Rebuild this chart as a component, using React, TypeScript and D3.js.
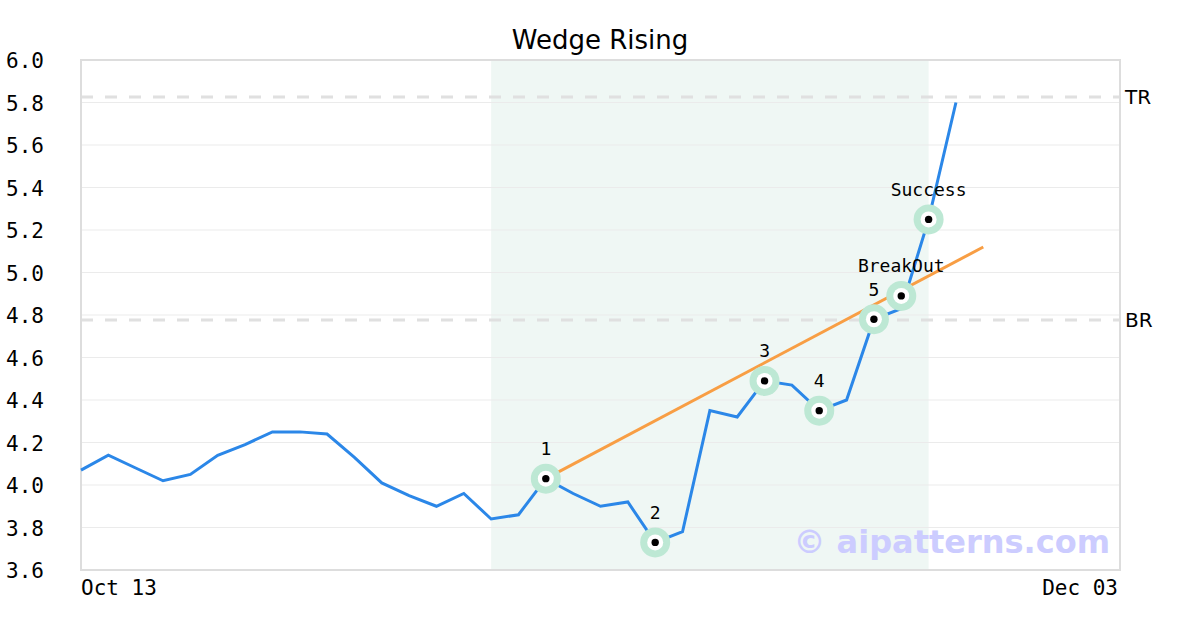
import React from "react";
import * as d3 from "d3";

const title = "Wedge Rising";
const closeValues = [
  4.07, 4.14, 4.08, 4.02, 4.05, 4.14, 4.19, 4.25, 4.25, 4.24, 4.13, 4.01, 3.95,
  3.9, 3.96, 3.84, 3.86, 4.03, 3.96, 3.9, 3.92, 3.73, 3.78, 4.35, 4.32, 4.49,
  4.47, 4.35, 4.4, 4.78, 4.83, 5.25, 5.8,
];
const yTicks = [3.6, 3.8, 4.0, 4.2, 4.4, 4.6, 4.8, 5.0, 5.2, 5.4, 5.6, 5.8, 6.0];
const xTickIndex = [0, 38];
const xTickLabels = ["Oct 13", "Dec 03"];
const patternStart = 15;
const patternEnd = 31;
const markerIndex = [17, 21, 25, 27, 29, 30, 31];
const markerValues = [4.03, 3.73, 4.49, 4.35, 4.78, 4.89, 5.25];
const markerLabels = ["1", "2", "3", "4", "5", "BreakOut", "Success"];
const trendIndex = [17, 33];
const trendValues = [4.03, 5.12];
const levelValues = [5.826, 4.776];
const levelLabels = ["TR", "BR"];

const W = 1200;
const H = 630;
const L = 81;
const R = 1120;
const T = 60;
const B = 570;

export default function App() {
  const x = d3.scaleLinear().domain([0, 38]).range([L, R]);
  const y = d3.scaleLinear().domain([3.6, 6.0]).range([B, T]);
  const line = d3
    .line<number>()
    .x((_, i) => x(i))
    .y((d) => y(d));
  const trend = d3
    .line<number>()
    .x((_, i) => x(trendIndex[i]))
    .y((d) => y(d));
  const mono = "'DejaVu Sans Mono', monospace";
  const sans = "'DejaVu Sans', sans-serif";
  return (
    <svg
      width={W}
      height={H}
      style={{ position: "absolute", left: 0, top: 0, background: "#fff" }}
    >
      <rect x={0} y={0} width={W} height={H} fill="#fff" />
      <text x={600} y={49} textAnchor="middle" fontFamily={sans} fontSize={26} fill="#000">
        {title}
      </text>
      <rect
        x={x(patternStart)}
        y={T}
        width={x(patternEnd) - x(patternStart)}
        height={B - T}
        fill="#eff7f4"
      />
      {yTicks.map((t) => (
        <g key={t}>
          <line x1={L} x2={R} y1={y(t)} y2={y(t)} stroke="#ebebeb" strokeWidth={1} />
          <text
            x={44}
            y={y(t) + 1}
            dy="0.35em"
            textAnchor="end"
            fontFamily={mono}
            fontSize={21}
            fill="#000"
          >
            {t.toFixed(1)}
          </text>
        </g>
      ))}
      {levelValues.map((v, i) => (
        <g key={levelLabels[i]}>
          <line
            x1={L}
            x2={R}
            y1={y(v)}
            y2={y(v)}
            stroke="#e0e0e0"
            strokeWidth={3}
            strokeDasharray="12,12"
          />
          <text x={1125} y={y(v)} dy="0.35em" fontFamily={sans} fontSize={20} fill="#000">
            {levelLabels[i]}
          </text>
        </g>
      ))}
      <rect x={L} y={T} width={R - L} height={B - T} fill="none" stroke="#dddddd" strokeWidth={2} />
      {xTickIndex.map((idx, i) => (
        <text
          key={idx}
          x={i === 0 ? x(idx) : x(idx) - 2}
          y={595}
          textAnchor={i === 0 ? "start" : "end"}
          fontFamily={mono}
          fontSize={21}
          fill="#000"
        >
          {xTickLabels[i]}
        </text>
      ))}
      <path d={line(closeValues) || ""} fill="none" stroke="#2b87e8" strokeWidth={3} />
      <path d={trend(trendValues) || ""} fill="none" stroke="#f89e44" strokeWidth={3} />
      {markerIndex.map((idx, i) => (
        <g key={i}>
          <circle cx={x(idx)} cy={y(markerValues[i])} r={15} fill="#bde8d4" />
          <circle cx={x(idx)} cy={y(markerValues[i])} r={8} fill="#fff" />
          <circle cx={x(idx)} cy={y(markerValues[i])} r={3.7} fill="#000" />
          <text
            x={x(idx)}
            y={y(markerValues[i]) - 30}
            dy="0.35em"
            textAnchor="middle"
            fontFamily={mono}
            fontSize={18}
            fill="#000"
          >
            {markerLabels[i]}
          </text>
        </g>
      ))}
      <text
        x={1110}
        y={553}
        textAnchor="end"
        fontFamily={sans}
        fontWeight="bold"
        fontSize={32}
        fill="#ccccff"
      >
        © aipatterns.com
      </text>
    </svg>
  );
}
